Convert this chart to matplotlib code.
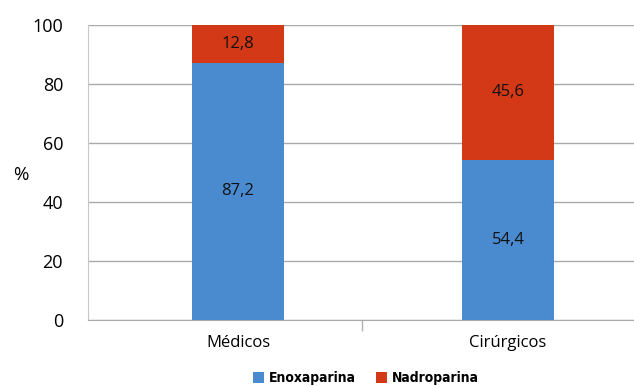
import numpy as np
import matplotlib.pyplot as plt

categorias = ['Médicos', 'Cirúrgicos']
enoxaparina = [87.2, 54.4]
nadroparina = [12.8, 45.6]
series = ['Enoxaparina', 'Nadroparina']
cores = ['#4a8bd0', '#d33817']

plt.rcParams['font.family'] = ['Open Sans', 'DejaVu Sans']

fig = plt.figure(figsize=(6.34, 3.86), dpi=100)
ax = fig.add_axes([88 / 634, 66 / 386, 546 / 634, 295 / 386])

x = np.arange(len(categorias))
largura = 0.34
b1 = ax.bar(x, enoxaparina, largura, color=cores[0], label=series[0], zorder=3)
b2 = ax.bar(x, nadroparina, largura, bottom=enoxaparina, color=cores[1],
            label=series[1], zorder=3)

fmt = lambda v: ('%.1f' % v).replace('.', ',')
ax.bar_label(b1, labels=[fmt(v) for v in enoxaparina], label_type='center',
             fontsize=12, color='#111111')
ax.bar_label(b2, labels=[fmt(v) for v in nadroparina], label_type='center',
             fontsize=12, color='#111111')

ax.set_xlim(-0.556, 1.467)
ax.set_ylim(0, 100)
ax.set_yticks(range(0, 101, 20))
ax.tick_params(axis='y', length=0, pad=18, labelsize=13)
ax.set_xticks(x)
ax.set_xticklabels(categorias)
ax.tick_params(axis='x', length=0, pad=11, labelsize=12)
ax.set_xticks([0.459], minor=True)
ax.tick_params(axis='x', which='minor', length=8, width=1, color='#b0b0b0')

ax.yaxis.grid(True, color='#aaaaaa', linewidth=1, zorder=0)
for s in ['top', 'right']:
    ax.spines[s].set_visible(False)
ax.spines['left'].set_color('#c8c8c8')
ax.spines['bottom'].set_color('#aaaaaa')

ax.set_ylabel('%', rotation=0, fontsize=13.5, va='center', ha='center')
ax.yaxis.set_label_coords(-0.123, 0.49)

fig.legend(handles=[b1, b2], loc='lower center', bbox_to_anchor=(366 / 634, -0.03),
           ncol=2, frameon=False, handlelength=0.8, handleheight=0.8,
           columnspacing=1.4, handletextpad=0.35,
           prop={'family': ['DejaVu Sans'], 'stretch': 'condensed',
                 'weight': 'bold', 'size': 10})

fig.savefig('out.png', dpi=100)
